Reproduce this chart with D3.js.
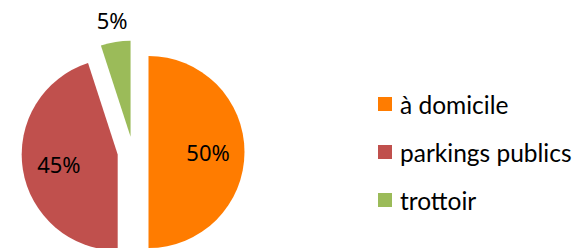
<!DOCTYPE html>
<html>
<head>
<meta charset="utf-8">
<script src="https://cdn.jsdelivr.net/npm/d3@7"></script>
<style>
  body { margin: 0; background: #fff; }
  svg { display: block; }
</style>
</head>
<body>
<svg id="chart" width="588" height="248"></svg>
<script>
var categories = ["à domicile", "parkings publics", "trottoir"];
var values = [50, 45, 5];
var labels = ["50%", "45%", "5%"];
var colors = ["#FF7C00", "#C0504D", "#9BBB59"];

var svg = d3.select("#chart"),
    cx = 133,
    cy = 152,
    radius = 96,
    explode = 15.5;

var pie = d3.pie().sort(null).value(function(d) { return d; });
var arc = d3.arc().innerRadius(0).outerRadius(radius);
var arcs = pie(values);

var g = svg.append("g")
    .attr("transform", "translate(" + cx + "," + cy + ")");

function offset(d, r) {
    var a = (d.startAngle + d.endAngle) / 2;
    return [Math.sin(a) * r, -Math.cos(a) * r];
}

var slices = g.selectAll(".slice")
    .data(arcs)
    .enter()
    .append("g")
    .attr("class", "slice")
    .attr("transform", function(d) {
        var o = offset(d, explode);
        return "translate(" + o[0] + "," + o[1] + ")";
    });

slices.append("path")
    .attr("d", arc)
    .attr("fill", function(d, i) { return colors[i]; });

// inside labels for big slices, outside for the small one
var labelArc = d3.arc().innerRadius(radius * 0.62).outerRadius(radius * 0.62);
var outerArc = d3.arc().innerRadius(radius + 22).outerRadius(radius + 22);

slices.append("text")
    .attr("transform", function(d) {
        var p = (d.endAngle - d.startAngle) < 0.5 ? outerArc.centroid(d) : labelArc.centroid(d);
        return "translate(" + p[0] + "," + p[1] + ")";
    })
    .attr("text-anchor", "middle")
    .attr("dominant-baseline", "central")
    .style("font-family", "'Noto Sans', sans-serif")
    .style("font-size", "22px")
    .style("fill", "#000")
    .text(function(d, i) { return labels[i]; });

// legend
var legend = svg.append("g")
    .attr("transform", "translate(378,104)");

var items = legend.selectAll(".item")
    .data(categories)
    .enter()
    .append("g")
    .attr("class", "item")
    .attr("transform", function(d, i) { return "translate(0," + (i * 48) + ")"; });

items.append("rect")
    .attr("x", 0)
    .attr("y", -7)
    .attr("width", 14)
    .attr("height", 14)
    .attr("fill", function(d, i) { return colors[i]; });

items.append("text")
    .attr("x", 22)
    .attr("y", 0)
    .attr("dominant-baseline", "central")
    .style("font-family", "Lato, 'Noto Sans', sans-serif")
    .style("font-size", "24.5px")
    .style("fill", "#000")
    .text(function(d) { return d; });
</script>
</body>
</html>
